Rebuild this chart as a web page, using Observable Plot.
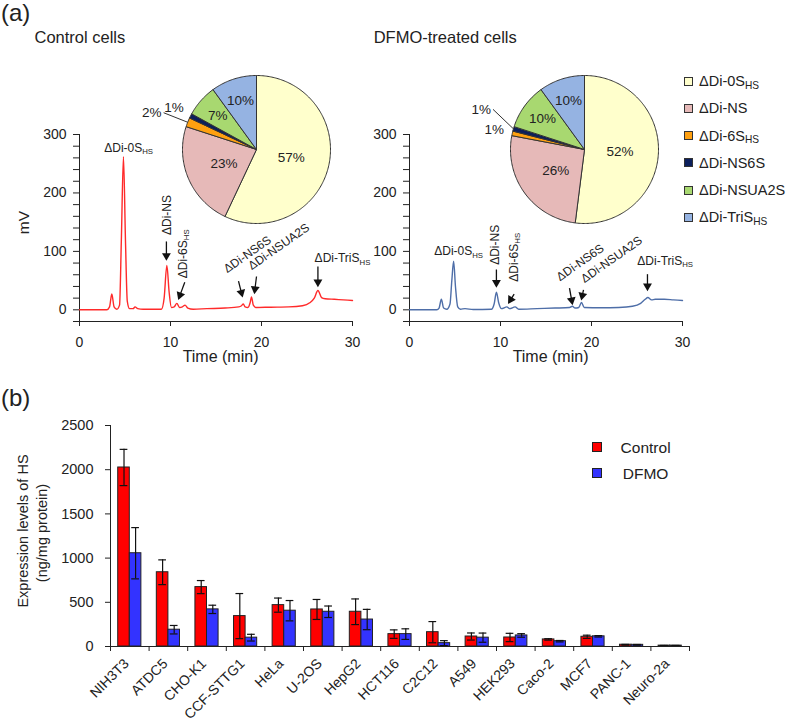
<!DOCTYPE html>
<html><head><meta charset="utf-8">
<script src="https://cdn.jsdelivr.net/npm/d3@7"></script>
<script src="https://cdn.jsdelivr.net/npm/@observablehq/plot@0.6"></script>
<style>
body{margin:0;background:#fff;font-family:"Liberation Sans",Arial,sans-serif;color:#222}
#root{position:relative;width:787px;height:727px;overflow:hidden;background:#fff}
#root svg{background:transparent;overflow:visible}
.t{position:absolute;line-height:1;white-space:nowrap}
</style></head><body><div id="root"></div>
<script>
// ---------------- data ----------------
const controlTrace = [[0,0],[1,0],[2,0],[3.0,0],[3.3,5],[3.55,27],[3.8,5],[4.1,1],[4.4,8],[4.6,120],[4.83,262],[5.05,120],[5.25,15],[5.5,2],[5.9,2],[6.1,5],[6.4,2],[7,1],[8,1],[9.0,1],[9.3,20],[9.6,76],[9.85,30],[10.1,4],[10.4,5],[10.7,11],[11.0,4],[11.3,5],[11.6,8],[11.9,3],[12.5,1],[14,2],[16,3],[17.5,5],[17.8,7],[18.0,10],[18.2,5],[18.5,4],[18.75,12],[18.9,22],[19.1,8],[19.4,4],[21,4.5],[23,5],[24.5,7],[25.3,12],[25.8,20],[26.2,33],[26.6,21],[27.0,19],[28,18],[29,17],[30,16]];
const dfmoTrace = [[0,0],[1,0],[2,0],[3.0,0],[3.25,3],[3.5,18],[3.75,3],[4.1,1],[4.45,10],[4.65,50],[4.85,83],[5.05,40],[5.3,5],[5.6,1],[6.1,2],[7,0.5],[9.0,1],[9.3,10],[9.55,30],[9.8,12],[10.1,2],[10.7,5],[11.0,2],[11.6,5],[12,1],[14,2],[16,3],[17.6,4],[17.9,6],[18.2,3],[18.6,4],[18.9,12.6],[19.2,4],[21,3.5],[23,4],[24.5,6],[25.4,11],[25.9,18],[26.2,21],[26.6,17],[27,18],[28,18],[29,17],[30,16]];

// peak labels: [text, time, mV]
const controlLabels = [["ΔDi-0S_HS",5.4,277],["ΔDi-NS",9.6,128],["ΔDi-6S_HS",11.4,54],["ΔDi-NS6S",16.0,68],["ΔDi-NSUA2S",18.7,73],["ΔDi-TriS_HS",28.9,88]];
const dfmoLabels = [["ΔDi-0S_HS",5.4,100],["ΔDi-NS",9.45,77],["ΔDi-6S_HS",11.45,48],["ΔDi-NS6S",16.3,54],["ΔDi-NSUA2S",19.0,51],["ΔDi-TriS_HS",28.1,83]];
// arrows: [t1, mV1, t2, mV2] (tip at 2)
const controlArrows = [[9.55,117,9.55,86],[11.57,47,10.9,19],[17.47,49,17.9,23],[19.45,57,19.23,29],[26.2,74,26.2,41]];
const dfmoArrows = [[9.55,69,9.55,40],[11.5,27,10.9,12],[17.58,37,17.9,10],[19.12,34,18.9,18],[26.15,61,26.15,34]];

const pieKeys = ["ΔDi-0S_HS","ΔDi-NS","ΔDi-6S_HS","ΔDi-NS6S","ΔDi-NSUA2S","ΔDi-TriS_HS"];
const pieColors = ["#ffffcc","#e6b9b8","#ffa010","#0c1f5c","#a8d870","#95b3e2"];
const controlPie = [57,23,2,1,7,10];
const dfmoPie = [52,26,1,1,10,10];

const cellLines = ["NIH3T3","ATDC5","CHO-K1","CCF-STTG1","HeLa","U-2OS","HepG2","HCT116","C2C12","A549","HEK293","Caco-2","MCF7","PANC-1","Neuro-2a"];
const controlHS = [2025,840,672,344,468,419,393,140,162,113,102,80,110,20,10];
const controlSD = [205,140,74,255,80,113,145,48,120,40,47,8,18,4,2];
const dfmoHS = [1055,190,420,100,405,393,305,140,38,100,125,60,115,19,10];
const dfmoSD = [290,48,47,38,115,65,115,60,28,52,20,8,8,4,2];
const hsTicks = [0,500,1000,1500,2000,2500];
const seriesNames = ["Control","DFMO"];
const seriesColors = ["#ff0000","#3333ff"];

// ---------------- helpers ----------------
const root = document.getElementById("root");
const FONT = '"Liberation Sans", Arial, sans-serif';
const baseStyle = {fontFamily: FONT, fontSize: "14px", color: "#222", background: "transparent", overflow: "visible"};
function place(el, left, top){ el.style.position="absolute"; el.style.left=left+"px"; el.style.top=top+"px"; root.appendChild(el); return el; }
function subscripts(svg){
  svg.querySelectorAll("text").forEach(t=>{
    const nodes = t.querySelectorAll("tspan").length ? [...t.querySelectorAll("tspan")] : [t];
    nodes.forEach(n=>{
      const s=n.textContent, k=s.indexOf("_");
      if(k<0) return;
      n.textContent=s.slice(0,k);
      const sub=document.createElementNS("http://www.w3.org/2000/svg","tspan");
      sub.setAttribute("font-size","65%"); sub.setAttribute("dy","0.3em");
      sub.textContent=s.slice(k+1); n.appendChild(sub);
    });
  });
  return svg;
}
function htmlSub(s){ const k=s.indexOf("_"); return k<0?s:s.slice(0,k)+'<span style="font-size:70%;position:relative;top:0.25em">'+s.slice(k+1)+'</span>'; }
function text(html, left, top, size, extra=""){ const d=document.createElement("div"); d.className="t"; d.style.fontSize=size+"px"; d.style.cssText+=extra; d.innerHTML=html; return place(d,left,top); }

const labelAngles = [0,-90,-90,-35,-35,0];

function chromatogram(trace, color, labels, arrows, showMV){
  const W=380,H=268,mL=79,mR=28,mT=34,mB=47;
  const sx=d3.scaleLinear([0,30],[mL,W-mR]), sy=d3.scaleLinear([-20,300],[H-mB,mT]);
  const r=3.3, apex=2*Math.sqrt(Math.PI*r*r/(3*Math.sqrt(3)));
  const heads=arrows.map(([x1,y1,x2,y2])=>{
    const px1=sx(x1),py1=sy(y1),px2=sx(x2),py2=sy(y2);
    const L=Math.hypot(px2-px1,py2-py1),ux=(px2-px1)/L,uy=(py2-py1)/L;
    return {x1,y1,x:sx.invert(px2-ux*apex*0.75),y:sy.invert(py2-uy*apex*0.75),rot:Math.atan2(ux,-uy)*180/Math.PI};
  });
  const lab=labels.map((d,i)=>({text:d[0],t:d[1],v:d[2],a:labelAngles[i]}));
  const marks=[
    Plot.ruleX([0],{y1:-20,y2:300,stroke:"#222"}),
    Plot.ruleY([-20],{x1:0,x2:30,stroke:"#222"}),
    Plot.axisY({ticks:d3.range(-20,301,20),tickSize:6,tickPadding:7,tickFormat:d=>d>=0&&d%100===0?String(d):"",label:null}),
    Plot.axisX({ticks:[0,10,20,30],tickSize:5,tickPadding:11,label:null}),
    Plot.line(trace,{x:d=>d[0],y:d=>d[1],stroke:color,strokeWidth:1.4,curve:"monotone-x"}),
    Plot.link(heads,{x1:"x1",y1:"y1",x2:"x",y2:"y",stroke:"#111",strokeWidth:1.3}),
    Plot.dot(heads,{x:"x",y:"y",r,symbol:"triangle",fill:"#111",stroke:"none",rotate:"rot"}),
    Plot.text(lab.filter(d=>d.a===0),{x:"t",y:"v",text:"text",textAnchor:"middle",fontSize:12}),
    Plot.text(lab.filter(d=>d.a!==0),{x:"t",y:"v",text:"text",rotate:"a",textAnchor:"start",fontSize:12}),
    Plot.text(["Time (min)"],{x:15.5,frameAnchor:"bottom",textAnchor:"middle",lineAnchor:"middle",dy:35,fontSize:16})
  ];
  if(showMV) marks.push(Plot.text(["mV"],{frameAnchor:"left",textAnchor:"middle",lineAnchor:"middle",dx:-55,dy:-5.5,rotate:-90,fontSize:15.5}));
  return subscripts(Plot.plot({width:W,height:H,marginLeft:mL,marginRight:mR,marginTop:mT,marginBottom:mB,
    x:{domain:[0,30]},y:{domain:[-20,300]},style:baseStyle,marks}));
}

function pie(values, cx, cy, leaderIndex, leaderShift){
  const R=74,W=260,H=170;
  const arcs=d3.pie().sort(null).value(d=>d)(values);
  const marks=[];
  arcs.forEach((a,i)=>{
    const n=Math.max(2,Math.ceil((a.endAngle-a.startAngle)/(Math.PI/180)));
    const pts=[[0,0]];
    for(let k=0;k<=n;k++){const t=a.startAngle+(a.endAngle-a.startAngle)*k/n; pts.push([Math.sin(t),Math.cos(t)]);}
    pts.push([0,0]);
    marks.push(Plot.line(pts,{x:d=>d[0],y:d=>d[1],fill:pieColors[i],stroke:"#333",strokeWidth:1,strokeLinejoin:"round"}));
  });
  const inside=[], outside=[], leaders=[], leaderLabels=[];
  arcs.forEach((a,i)=>{
    const m=(a.startAngle+a.endAngle)/2, v=values[i], lbl=v+"%";
    if(v>=5){ const f=v>=20?0.48:0.7; inside.push({x:f*Math.sin(m),y:f*Math.cos(m),lbl}); }
    else if(i===leaderIndex){
      const ml=m+leaderShift*Math.PI/180;
      leaders.push({x1:Math.sin(m),y1:Math.cos(m),x2:1.35*Math.sin(ml),y2:1.35*Math.cos(ml)});
      leaderLabels.push({x:1.35*Math.sin(ml),y:1.35*Math.cos(ml),lbl});
    } else outside.push({x:1.25*Math.sin(m),y:1.25*Math.cos(m),lbl});
  });
  marks.push(Plot.text(inside,{x:"x",y:"y",text:"lbl",fontSize:13.5}));
  marks.push(Plot.text(outside,{x:"x",y:"y",text:"lbl",fontSize:13.5}));
  marks.push(Plot.link(leaders,{x1:"x1",y1:"y1",x2:"x2",y2:"y2",stroke:"#333",strokeWidth:1}));
  marks.push(Plot.text(leaderLabels,{x:"x",y:"y",text:"lbl",textAnchor:"end",dx:-2,fontSize:13.5}));
  const svg=Plot.plot({width:W,height:H,margin:0,x:{domain:[-W/2/R,W/2/R]},y:{domain:[-H/2/R,H/2/R]},axis:null,style:baseStyle,marks});
  return place(svg,cx-W/2,cy-H/2);
}

// ---------------- panel (a) ----------------
place(chromatogram(controlTrace,"#ff2a2a",controlLabels,controlArrows,true),0,100);
place(chromatogram(dfmoTrace,"#4e6ea8",dfmoLabels,dfmoArrows,false),330,100);
pie(controlPie,256,149,2,0);
pie(dfmoPie,584,149,3,7.5);

text("(a)",1,0.8,24);
text("Control cells",34.5,28.7,16.5);
text("DFMO-treated cells",373.7,28.7,16.5);

pieKeys.forEach((k,i)=>{
  const yc=81.3+27.2*i;
  const sq=document.createElement("div");
  sq.style.cssText=`width:9px;height:9px;box-sizing:border-box;border:1px solid #333;background:${pieColors[i]}`;
  place(sq,684,yc-4.5);
  text(htmlSub(k),699,yc-7.1,14.5);
});

// ---------------- panel (b) ----------------
text("(b)",1,386.4,24);
{
  const idx=cellLines.map((d,i)=>i);
  const series=[controlHS,dfmoHS], errs=[controlSD,dfmoSD];
  const marks=[];
  series.forEach((vals,s)=>{
    const off=0.2+0.3*s;
    marks.push(Plot.rect(idx,{x1:i=>i+off,x2:i=>i+off+0.3,y1:0,y2:i=>vals[i],fill:seriesColors[s],stroke:"#222",strokeWidth:1}));
  });
  series.forEach((vals,s)=>{
    const c=0.35+0.3*s, e=errs[s];
    marks.push(Plot.ruleX(idx,{x:i=>i+c,y1:i=>vals[i]-e[i],y2:i=>vals[i]+e[i],stroke:"#111",strokeWidth:1.2}));
    marks.push(Plot.ruleY(idx,{x1:i=>i+c-0.1,x2:i=>i+c+0.1,y:i=>vals[i]+e[i],stroke:"#111",strokeWidth:1.2}));
    marks.push(Plot.ruleY(idx,{x1:i=>i+c-0.1,x2:i=>i+c+0.1,y:i=>vals[i]-e[i],stroke:"#111",strokeWidth:1.2}));
  });
  marks.push(
    Plot.ruleX([0],{y1:0,y2:2500,stroke:"#222"}),
    Plot.ruleY([0],{x1:0,x2:15,stroke:"#222",strokeWidth:1.2}),
    Plot.axisY({ticks:hsTicks,tickSize:5,tickPadding:12,tickFormat:d=>String(d),label:null,fontSize:14.5}),
    Plot.axisX({ticks:d3.range(16),tickSize:5,tickFormat:()=>"",label:null}),
    Plot.text(cellLines,{x:(d,i)=>i+0.5,frameAnchor:"bottom",rotate:-45,textAnchor:"end",dx:0,dy:18,fontSize:14}),
    Plot.text(["Expression levels of HS"],{frameAnchor:"left",textAnchor:"middle",lineAnchor:"middle",dx:-87.5,dy:-5,rotate:-90,fontSize:14.5}),
    Plot.text(["(ng/mg protein)"],{frameAnchor:"left",textAnchor:"middle",lineAnchor:"middle",dx:-68.5,dy:-3,rotate:-90,fontSize:14.5})
  );
  const svg=Plot.plot({width:787,height:317,marginLeft:110,marginRight:98,marginTop:15,marginBottom:81,
    x:{domain:[0,15]},y:{domain:[0,2500]},style:baseStyle,marks});
  place(svg,0,410);
}
seriesNames.forEach((n,s)=>{
  const yc=447+26.3*s;
  const sq=document.createElement("div");
  sq.style.cssText=`width:10px;height:10px;box-sizing:border-box;border:1px solid #222;background:${seriesColors[s]}`;
  place(sq,592,yc-5);
  text(n,595.6,yc+5.6-13.1,15.5,"width:100px;text-align:center;");
});
</script></body></html>
